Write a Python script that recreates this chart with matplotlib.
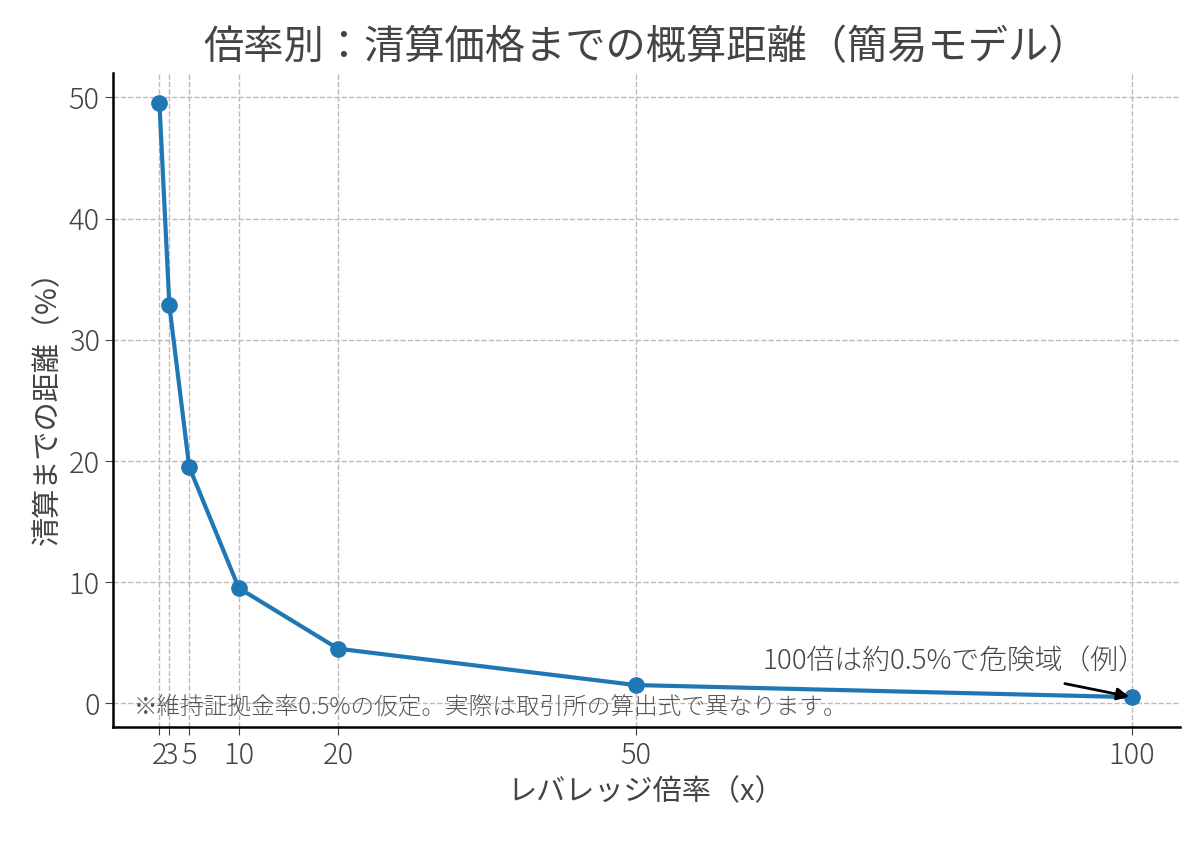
import matplotlib.pyplot as plt

plt.rcParams["font.family"] = "Noto Sans CJK JP"
plt.rcParams["font.weight"] = "light"

leverage = [2, 3, 5, 10, 20, 50, 100]
distance_pct = [49.5, 32.83, 19.5, 9.5, 4.5, 1.5, 0.5]
y_ticks = [0, 10, 20, 30, 40, 50]

fig, ax = plt.subplots(figsize=(12, 8.41), dpi=100)
fig.subplots_adjust(left=0.094, right=0.983, top=0.913, bottom=0.135)

ax.plot(leverage, distance_pct, color="#1f77b4", linewidth=3, marker="o", markersize=11)

ax.set_xticks(leverage)
ax.set_xticklabels([str(v) for v in leverage])
ax.set_yticks(y_ticks)
ax.tick_params(labelsize=21, colors="#444444", length=6)
ax.set_xlim(-2.7, 104.8)
ax.set_ylim(-2.0, 52.0)
ax.grid(True, linestyle="--", color="#bbbbbb", linewidth=1)
for s in ["top", "right"]:
    ax.spines[s].set_visible(False)
for s in ["left", "bottom"]:
    ax.spines[s].set_linewidth(1.8)

ax.set_title("倍率別：清算価格までの概算距離（簡易モデル）", fontsize=29, color="#444444", pad=10)
ax.set_xlabel("レバレッジ倍率（x）", fontsize=21, color="#444444")
ax.set_ylabel("清算までの距離（%）", fontsize=21, color="#444444")

ax.annotate("100倍は約0.5%で危険域（例）", xy=(100, 0.5), xytext=(62.8, 2.8),
            fontsize=20, color="#444444",
            arrowprops=dict(arrowstyle="-|>", color="black", lw=2, mutation_scale=18,
                            shrinkA=20))
ax.text(0.02, 0.02, "※維持証拠金率0.5%の仮定。実際は取引所の算出式で異なります。",
        transform=ax.transAxes, fontsize=17, color="#555555")

fig.savefig("out.png")
